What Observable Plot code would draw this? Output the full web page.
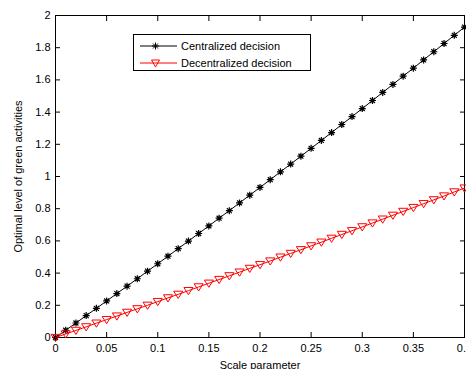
<!DOCTYPE html>
<html><head><meta charset="utf-8">
<script src="https://cdn.jsdelivr.net/npm/d3@7"></script>
<script src="https://cdn.jsdelivr.net/npm/@observablehq/plot@0.6"></script>
<style>
body{margin:0;background:#fff;}
#wrap{position:relative;width:466px;height:369px;overflow:hidden;font-family:"Liberation Sans",Arial,sans-serif;}
#legend{position:absolute;left:133px;top:34px;width:178px;height:37px;border:1px solid #000;background:#fff;font-size:11px;box-sizing:border-box;}
.row{position:absolute;left:0;height:16px;display:flex;align-items:center;}
.row svg{display:block;margin-left:6px;margin-right:4px;}
</style></head><body><div id="wrap"><div id="legend"></div></div>
<script>
const scaleParam = [0,0.01,0.02,0.03,0.04,0.05,0.06,0.07,0.08,0.09,0.1,0.11,0.12,0.13,0.14,0.15,0.16,0.17,0.18,0.19,0.2,0.21,0.22,0.23,0.24,0.25,0.26,0.27,0.28,0.29,0.3,0.31,0.32,0.33,0.34,0.35,0.36,0.37,0.38,0.39,0.4];
const centralized = [0,0.045,0.090,0.136,0.181,0.227,0.273,0.319,0.365,0.412,0.458,0.505,0.552,0.599,0.646,0.693,0.741,0.788,0.836,0.884,0.932,0.980,1.029,1.077,1.126,1.175,1.224,1.273,1.323,1.372,1.422,1.472,1.522,1.572,1.623,1.673,1.724,1.775,1.826,1.877,1.928];
const decentralized = [0,0.022,0.044,0.066,0.089,0.111,0.133,0.156,0.178,0.200,0.223,0.246,0.268,0.291,0.314,0.337,0.360,0.383,0.406,0.429,0.452,0.475,0.499,0.522,0.545,0.569,0.592,0.616,0.640,0.663,0.687,0.711,0.735,0.759,0.783,0.807,0.831,0.855,0.879,0.904,0.928];
const seriesNames = ["Centralized decision","Decentralized decision"];
const seriesColors = ["black","red"];
const xTicks = [0,0.05,0.1,0.15,0.2,0.25,0.3,0.35,0.4];
const yTicks = [0,0.2,0.4,0.6,0.8,1,1.2,1.4,1.6,1.8,2];
const xLabel = "Scale parameter";
const yLabel = "Optimal level of green activities";

const data = scaleParam.map((x,i)=>({x, c: centralized[i], d: decentralized[i]}));

const asterisk8 = {draw(ctx,size){const r=Math.sqrt(size/Math.PI);const q=r*Math.SQRT1_2;
  ctx.moveTo(-r,0);ctx.lineTo(r,0);ctx.moveTo(0,-r);ctx.lineTo(0,r);
  ctx.moveTo(-q,-q);ctx.lineTo(q,q);ctx.moveTo(-q,q);ctx.lineTo(q,-q);}};
const triDown = {draw(ctx,size){const r=Math.sqrt(size/Math.PI);
  ctx.moveTo(-r,-r*0.7);ctx.lineTo(r,-r*0.7);ctx.lineTo(0,r*0.9);ctx.closePath();}};

const fmt = d => String(d);
const chart = Plot.plot({
  width:466, height:369, marginLeft:55, marginRight:2, marginTop:15, marginBottom:32,
  style:{fontFamily:'"Liberation Sans",Arial,sans-serif', fontSize:"11px", background:"white", color:"black", overflow:"visible"},
  x:{domain:[0,0.4]}, y:{domain:[0,2]},
  marks:[
    Plot.axisX(xTicks,{anchor:"bottom", tickSize:-5, tickPadding:12, tickFormat:fmt, label:xLabel, labelAnchor:"center", labelArrow:"none", labelOffset:31}),
    Plot.axisX(xTicks,{anchor:"top", tickSize:-5, tickFormat:()=>"", label:null}),
    Plot.axisY(yTicks,{anchor:"left", tickSize:-5, tickPadding:10, tickFormat:fmt, label:yLabel, labelAnchor:"center", labelArrow:"none", labelOffset:41}),
    Plot.axisY(yTicks,{anchor:"right", tickSize:-5, tickFormat:()=>"", label:null}),
    Plot.frame({stroke:"black", strokeWidth:1}),
    Plot.line(data,{x:"x", y:"c", stroke:seriesColors[0], strokeWidth:1}),
    Plot.dot(data,{x:"x", y:"c", symbol:asterisk8, r:3.5, stroke:seriesColors[0], strokeWidth:1.2}),
    Plot.line(data,{x:"x", y:"d", stroke:seriesColors[1], strokeWidth:1}),
    Plot.dot(data,{x:"x", y:"d", symbol:triDown, r:4.5, stroke:seriesColors[1], fill:"none", strokeWidth:1})
  ]
});
const wrap = document.getElementById("wrap");
wrap.insertBefore(chart, wrap.firstChild);

const legend = document.getElementById("legend");
seriesNames.forEach((name,i)=>{
  const row = document.createElement("div");
  row.className = "row";
  row.style.top = (3 + i*17) + "px";
  const marker = i===0
    ? `<path d="M15.5,3.5V10.5M12,7H19M13,4.5L18,9.5M13,9.5L18,4.5" stroke="black" stroke-width="1"/>`
    : `<path d="M11.5,4H19.5L15.5,11Z" stroke="red" fill="none" stroke-width="1"/>`;
  row.innerHTML = `<svg width="37" height="14"><line x1="0" y1="7" x2="37" y2="7" stroke="${seriesColors[i]}" stroke-width="1"/>${marker}</svg><span>${name}</span>`;
  legend.appendChild(row);
});
</script>
</body></html>
